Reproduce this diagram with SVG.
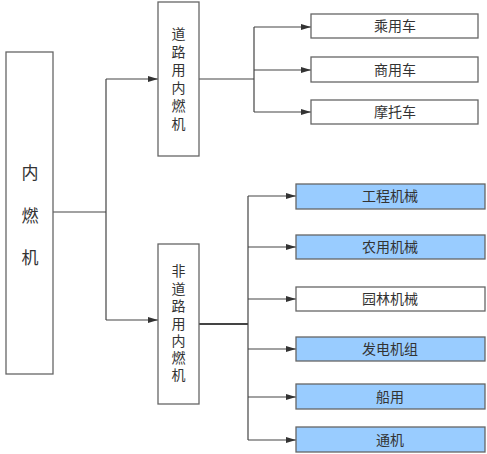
<svg xmlns="http://www.w3.org/2000/svg" width="487" height="454" viewBox="0 0 487 454">
<defs>
<marker id="arr" markerWidth="10" markerHeight="6" refX="10" refY="3" orient="auto" markerUnits="userSpaceOnUse">
<path d="M0,0 L10,3 L0,6 Z" fill="#333"/>
</marker>
<style>
.box{fill:#fff;stroke:#666;stroke-width:1.3}
.blue{fill:#99CCFF;stroke:#666;stroke-width:1.3}
.ln{fill:none;stroke:#444;stroke-width:1.2}
.t{font-family:"Liberation Serif","Noto Sans CJK SC",serif;font-size:14px;fill:#333;text-anchor:middle}
.big{font-size:17px}
</style>
</defs>
<rect width="487" height="454" fill="#fff"/>
<g id="connectors">
<path class="ln" d="M53,212 H106"/>
<path class="ln" d="M106,79 V320"/>
<path class="ln" d="M106,79 H158" marker-end="url(#arr)"/>
<path class="ln" d="M106,320 H158" marker-end="url(#arr)"/>
<path class="ln" d="M199,79 H254"/>
<path class="ln" d="M254,27 V112"/>
<path class="ln" d="M254,27 H311" marker-end="url(#arr)"/>
<path class="ln" d="M254,70 H311" marker-end="url(#arr)"/>
<path class="ln" d="M254,112 H311" marker-end="url(#arr)"/>
<path class="ln" style="stroke-width:2" d="M199,324 H248"/>
<path class="ln" d="M248,196 V440"/>
<path class="ln" d="M248,196 H296" marker-end="url(#arr)"/>
<path class="ln" d="M248,247 H296" marker-end="url(#arr)"/>
<path class="ln" d="M248,299 H296" marker-end="url(#arr)"/>
<path class="ln" d="M248,349 H296" marker-end="url(#arr)"/>
<path class="ln" d="M248,397 H296" marker-end="url(#arr)"/>
<path class="ln" d="M248,440 H296" marker-end="url(#arr)"/>
</g>
<g id="n-main">
<rect class="box" x="6" y="52" width="47" height="322"/>
<text class="t big" x="30" y="179">内</text>
<text class="t big" x="30" y="222">燃</text>
<text class="t big" x="30" y="264">机</text>
</g>
<g id="n-road">
<rect class="box" x="158" y="2" width="41" height="154"/>
<text class="t" x="178.5" y="39">道</text>
<text class="t" x="178.5" y="57">路</text>
<text class="t" x="178.5" y="75">用</text>
<text class="t" x="178.5" y="93">内</text>
<text class="t" x="178.5" y="111">燃</text>
<text class="t" x="178.5" y="129">机</text>
</g>
<g id="n-offroad">
<rect class="box" x="158" y="244" width="41" height="160"/>
<text class="t" x="178.5" y="276">非</text>
<text class="t" x="178.5" y="294">道</text>
<text class="t" x="178.5" y="311">路</text>
<text class="t" x="178.5" y="329">用</text>
<text class="t" x="178.5" y="346">内</text>
<text class="t" x="178.5" y="363">燃</text>
<text class="t" x="178.5" y="380">机</text>
</g>
<g id="n-car">
<rect class="box" x="311" y="14" width="167" height="24"/>
<text class="t" x="395" y="31">乘用车</text>
</g>
<g id="n-commercial">
<rect class="box" x="311" y="57" width="167" height="25"/>
<text class="t" x="395" y="75">商用车</text>
</g>
<g id="n-moto">
<rect class="box" x="311" y="100" width="167" height="24"/>
<text class="t" x="395" y="117">摩托车</text>
</g>
<g id="n-eng">
<rect class="blue" x="296" y="184" width="189" height="25"/>
<text class="t" x="390" y="201">工程机械</text>
</g>
<g id="n-agri">
<rect class="blue" x="296" y="235" width="189" height="24"/>
<text class="t" x="390" y="252">农用机械</text>
</g>
<g id="n-garden">
<rect class="box" x="296" y="287" width="189" height="24"/>
<text class="t" x="390" y="304">园林机械</text>
</g>
<g id="n-gen">
<rect class="blue" x="296" y="337" width="189" height="24"/>
<text class="t" x="390" y="354">发电机组</text>
</g>
<g id="n-ship">
<rect class="blue" x="296" y="384" width="189" height="25"/>
<text class="t" x="390" y="402">船用</text>
</g>
<g id="n-general">
<rect class="blue" x="296" y="427" width="189" height="25"/>
<text class="t" x="390" y="445">通机</text>
</g>
</svg>
